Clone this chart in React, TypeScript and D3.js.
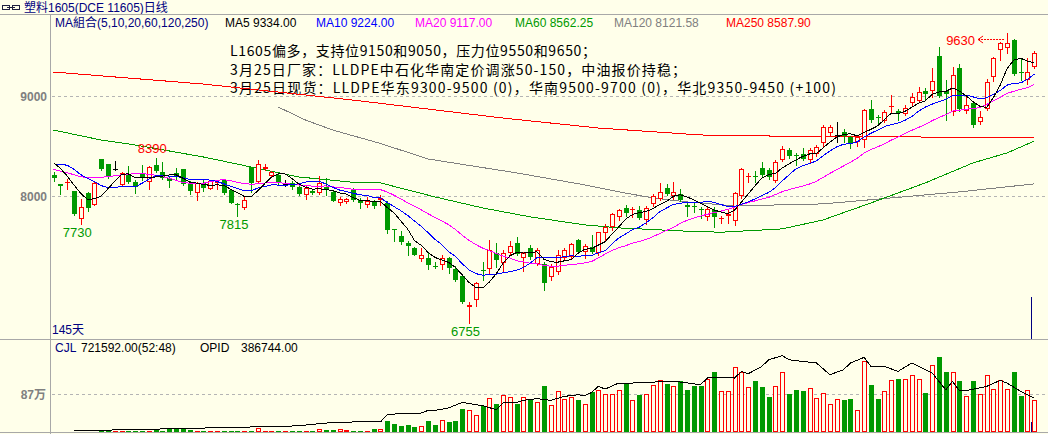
import React from 'react';
import * as d3 from 'd3';

// ---------------- data ----------------
const titleText = '塑料1605(DCE 11605)日线';
const legendLabels = ['MA組合(5,10,20,60,120,250)', 'MA5 9334.00', 'MA10 9224.00', 'MA20 9117.00', 'MA60 8562.25', 'MA120 8121.58', 'MA250 8587.90'];
const notes = [
  'L1605偏多，支持位9150和9050，压力位9550和9650；',
  '3月25日厂家：LLDPE中石化华南定价调涨50-150，中油报价持稳；',
  '3月25日现货：LLDPE华东9300-9500 (0)，华南9500-9700 (0)，华北9350-9450 (+100)',
];
const daysLabel = '145天';
const volInfo = ['CJL', '721592.00(52:48)', 'OPID', '386744.00'];
const priceTicks = [9000, 8000];
const volTicks = [870000];
const volTickLabels = ['87万'];

const opens = [
  8218, 8129, 8134, 8060, 7782, 8040, 7921, 8376, 8327, 8277,
  8119, 8228, 8149, 8228, 8149, 8317, 8248, 8188, 8238, 8277,
  8139, 8040, 8139, 8079, 8140, 8168, 8069, 7930, 7891, 8297,
  8149, 8277, 8208, 8218, 8130, 8139, 8099, 8020, 8060, 8040,
  8099, 8050, 7941, 7950, 8079, 7970, 7921, 7960, 7970, 7941,
  7683, 7614, 7545, 7495, 7386, 7396, 7317, 7327, 7396, 7287,
  7218, 6911, 6980, 7277, 7287, 7446, 7347, 7446, 7545, 7396,
  7495, 7337, 7337, 7208, 7258, 7396, 7406, 7574, 7456, 7505,
  7446, 7644, 7703, 7802, 7891, 7871, 7871, 7772, 7931, 7980,
  8089, 8010, 8030, 7921, 7910, 7880, 7802, 7871, 7782, 7812,
  7763, 8010, 8198, 8208, 8287, 8267, 8158, 8366, 8465, 8415,
  8425, 8366, 8425, 8535, 8634, 8614, 8644, 8594, 8545, 8564,
  8871, 8792, 8753, 8891, 8851, 8822, 8931, 8950, 9050, 9050,
  9396, 9050, 8842, 9277, 8851, 8931, 8743, 8871, 9188, 9455,
  9475, 9555, 9238, 9158, 9287,
];
const highs = [
  8248, 8129, 8178, 8060, 7980, 8045, 8149, 8380, 8330, 8356,
  8248, 8307, 8168, 8317, 8307, 8390, 8347, 8208, 8287, 8280,
  8158, 8149, 8168, 8168, 8158, 8178, 8079, 7940, 8000, 8300,
  8366, 8327, 8258, 8238, 8168, 8158, 8109, 8109, 8070, 8208,
  8188, 8060, 8000, 7990, 8089, 7990, 8000, 7970, 8020, 7960,
  7683, 7663, 7564, 7500, 7495, 7446, 7357, 7426, 7406, 7317,
  7220, 6960, 7158, 7357, 7574, 7545, 7475, 7564, 7604, 7456,
  7525, 7495, 7357, 7337, 7475, 7495, 7545, 7584, 7535, 7624,
  7654, 7733, 7842, 7881, 7921, 7900, 7911, 7911, 8030, 8139,
  8129, 8149, 8079, 7950, 7941, 7901, 7901, 7901, 7812, 7881,
  8050, 8287, 8237, 8258, 8347, 8287, 8366, 8505, 8485, 8435,
  8485, 8485, 8515, 8713, 8713, 8743, 8673, 8604, 8614, 8871,
  8960, 8812, 8861, 9010, 8871, 8910, 9030, 9089, 9079, 9277,
  9485, 9158, 9287, 9317, 9010, 8941, 8851, 9168, 9386, 9535,
  9630, 9564, 9376, 9376, 9445,
];
const lows = [
  8158, 8030, 8079, 7822, 7730, 7862, 7921, 8270, 8190, 8267,
  8119, 8139, 8040, 8168, 8079, 8248, 8178, 8102, 8178, 8120,
  8030, 7970, 8060, 8079, 8080, 8030, 7941, 7815, 7880, 8050,
  8139, 8270, 8198, 8119, 8109, 8079, 8020, 7980, 8030, 8030,
  8020, 7960, 7921, 7940, 7960, 7891, 7901, 7891, 7921, 7643,
  7564, 7534, 7426, 7420, 7366, 7287, 7297, 7287, 7248, 7168,
  6950, 6755, 6921, 7178, 7248, 7307, 7258, 7426, 7426, 7267,
  7386, 7327, 7079, 7178, 7238, 7376, 7386, 7446, 7396, 7446,
  7426, 7574, 7673, 7772, 7812, 7802, 7782, 7733, 7911, 7970,
  8020, 7980, 7960, 7812, 7852, 7792, 7772, 7703, 7743, 7743,
  7723, 7990, 8149, 8149, 8198, 8178, 8149, 8356, 8386, 8317,
  8366, 8337, 8406, 8505, 8604, 8545, 8545, 8485, 8505, 8495,
  8743, 8733, 8743, 8832, 8762, 8812, 8901, 8940, 8960, 8990,
  8990, 8762, 8812, 8851, 8832, 8693, 8723, 8861, 9149, 9356,
  9425, 9208, 9158, 9119, 9277,
];
const closes = [
  8188, 8109, 8144, 7832, 7901, 7891, 8139, 8277, 8198, 8277,
  8238, 8149, 8099, 8188, 8297, 8257, 8188, 8158, 8198, 8129,
  8060, 8139, 8089, 8158, 8150, 8040, 7941, 7925, 7970, 8139,
  8327, 8297, 8248, 8139, 8130, 8099, 8030, 8089, 8040, 8139,
  8079, 7960, 7980, 7980, 7970, 7941, 7960, 7911, 7990, 7673,
  7673, 7554, 7515, 7426, 7426, 7327, 7307, 7396, 7297, 7178,
  6960, 6931, 7149, 7267, 7475, 7376, 7446, 7515, 7436, 7446,
  7406, 7475, 7149, 7307, 7426, 7475, 7535, 7456, 7515, 7456,
  7654, 7703, 7832, 7871, 7842, 7881, 7792, 7891, 8010, 8050,
  8030, 8050, 7970, 7901, 7900, 7871, 7881, 7802, 7792, 7832,
  8040, 8277, 8208, 8198, 8218, 8198, 8347, 8475, 8406, 8406,
  8376, 8465, 8495, 8693, 8693, 8614, 8604, 8525, 8594, 8861,
  8762, 8782, 8842, 8901, 8832, 8881, 8990, 9040, 9020, 9149,
  9000, 9020, 9208, 8871, 8911, 8713, 8792, 9139, 9376, 9525,
  9525, 9218, 9228, 9238, 9426,
];
const volumes = [
  10000, 10000, 10000, 10000, 10000, 10000, 10000, 46000, 25000, 30000,
  25000, 25000, 30000, 30000, 25000, 53000, 30000, 69000, 69000, 69000,
  53000, 25000, 25000, 25000, 25000, 25000, 25000, 25000, 25000, 30000,
  82000, 25000, 25000, 25000, 25000, 25000, 25000, 25000, 25000, 76000,
  53000, 53000, 69000, 40000, 30000, 30000, 30000, 60000, 60000, 243000,
  190000, 130000, 167000, 105000, 144000, 243000, 151000, 266000, 220000, 243000,
  527000, 495000, 396000, 586000, 785000, 648000, 854000, 792000, 648000, 802000,
  740000, 678000, 1060000, 625000, 946000, 763000, 808000, 740000, 648000, 907000,
  969000, 877000, 877000, 969000, 1106000, 740000, 854000, 877000, 1083000, 1198000,
  1106000, 1044000, 1159000, 969000, 1044000, 1044000, 1221000, 1365000, 946000, 946000,
  1488000, 1365000, 1030000, 1159000, 1021000, 792000, 1060000, 1365000, 877000, 969000,
  930000, 1014000, 785000, 900000, 648000, 763000, 740000, 763000, 511000, 1617000,
  1083000, 763000, 930000, 1198000, 1221000, 1221000, 1312000, 1221000, 900000, 1541000,
  1708000, 1365000, 1381000, 1175000, 831000, 1159000, 877000, 1312000, 992000, 1198000,
  992000, 1365000, 831000, 969000, 721592,
];
// open interest (OPID) read at day indices
const opidDays = [3, 11, 22, 29, 32, 36, 41, 44, 48, 49, 52, 54, 55, 56, 58, 60, 62, 63, 65, 66, 68, 69, 71, 73, 75, 77, 78, 79, 80, 81, 83, 85, 88, 89, 91, 92, 95, 96, 98, 100, 101, 102, 104, 105, 107, 108, 110, 112, 114, 116, 117, 119, 120, 122, 124, 126, 129, 131, 132, 133, 134, 137, 139, 140, 142, 144];
const opidValues = [15000, 26000, 45000, 57000, 57000, 72000, 109000, 114000, 114000, 197000, 216000, 216000, 246000, 246000, 273000, 337000, 311000, 299000, 254000, 333000, 337000, 360000, 379000, 360000, 405000, 424000, 413000, 450000, 519000, 489000, 557000, 557000, 564000, 580000, 575000, 569000, 538000, 614000, 621000, 614000, 689000, 663000, 746000, 822000, 868000, 822000, 803000, 785000, 652000, 709000, 785000, 849000, 746000, 746000, 689000, 785000, 671000, 481000, 576000, 470000, 470000, 519000, 587000, 557000, 462000, 386744];

// early MA values (window reaches before the first shown day)
const ma5Head = [8340, 8284, 8208, 8119];
const ma10Head = [8327, 8324, 8314, 8274, 8221, 8185, 8152, 8112, 8092];
const ma20Head = [8274, 8257, 8240, 8220, 8200, 8190, 8190, 8195, 8200, 8210, 8220, 8225, 8230, 8230, 8225, 8215, 8200, 8185, 8165];
// long MAs read at day indices
const ma60Days = [0, 7, 12, 22, 29, 36, 44, 48, 56, 63, 70, 78, 83, 92, 98, 107, 113, 120, 128, 135, 140, 144];
const ma60Values = [8663, 8564, 8515, 8396, 8297, 8198, 8145, 8139, 8000, 7891, 7802, 7723, 7693, 7663, 7650, 7683, 7772, 7940, 8139, 8337, 8436, 8554];
const ma120Days = [33, 37, 41, 48, 55, 68, 78, 83, 88, 93, 100, 113, 123, 133, 144];
const ma120Values = [8891, 8762, 8663, 8530, 8376, 8238, 8119, 8050, 7990, 7950, 7911, 7931, 7990, 8050, 8129];
const ma250Days = [0, 22, 44, 66, 80, 95, 110, 144];
const ma250Values = [9238, 9119, 8960, 8782, 8683, 8614, 8599, 8589];

// extreme-price labels
const markDays = [15, 4, 27, 61, 140];
const markKinds = ['high', 'low', 'low', 'low', 'highArrow'];

// ---------------- styles / layout ----------------
const W = 1048;
const H = 434;
const BG = '#FFFFEA';
const UP = '#FF0000';
const DOWN = '#009900';
const NAVY = '#000080';
const AXIS = '#A8A8A8';
const GRID = '#B4B4B4';
const legendColors = [NAVY, '#000000', '#0000FF', '#FF00FF', '#009900', '#808080', '#FF0000'];
const legendX = [55, 225, 316, 415, 515, 614, 726];
const noteLengths = [366, 456, 606];
const SANS = '"Liberation Sans", "Noto Sans CJK SC", sans-serif';
const CJK = '"Noto Sans CJK SC", sans-serif';

export default function App() {
  const n = closes.length;
  const x = d3.scaleLinear().domain([0, n - 1]).range([53.5, 1034.3]);
  const y = d3.scaleLinear().domain([6755, 9630]).range([322.5, 32.5]);
  const vy = d3.scaleLinear().domain([0, 870000]).range([432, 394]);
  const oy = d3.scaleLinear().domain([0, 386744]).range([432, 398]);

  const movingAverage = (len: number, head: number[]) =>
    closes.map((_, i) => (i < len - 1 ? head[i] : (d3.mean(closes.slice(i - len + 1, i + 1)) as number)));

  const lineGen = d3
    .line<[number, number]>()
    .x((d) => x(d[0]))
    .y((d) => y(d[1]));
  const seriesPath = (vals: number[]) => lineGen(vals.map((v, i) => [i, v] as [number, number])) || '';
  const sparsePath = (days: number[], vals: number[]) => lineGen(days.map((d, k) => [d, vals[k]] as [number, number])) || '';
  const opidPath =
    d3
      .line<[number, number]>()
      .x((d) => x(d[0]))
      .y((d) => oy(d[1]))(opidDays.map((d, k) => [d, opidValues[k]] as [number, number])) || '';

  const ma5 = movingAverage(5, ma5Head);
  const ma10 = movingAverage(10, ma10Head);
  const ma20 = movingAverage(20, ma20Head);

  const candles = closes.map((c, i) => {
    const o = opens[i];
    const cx = Math.round(x(i));
    const top = Math.round(y(Math.max(o, c)));
    const bot = Math.round(y(Math.min(o, c)));
    const hi = Math.round(y(highs[i]));
    const lo = Math.round(y(lows[i]));
    const color = c > o ? UP : c < o ? DOWN : '#000000';
    const wx = cx + 0.5;
    if (bot - top < 2) {
      return (
        <g key={i}>
          <line x1={wx} x2={wx} y1={hi} y2={lo + 1} stroke={color} />
          <line x1={cx - 2} x2={cx + 3} y1={top + 0.5} y2={top + 0.5} stroke={color} />
        </g>
      );
    }
    if (c > o) {
      return (
        <g key={i}>
          <line x1={wx} x2={wx} y1={hi} y2={top} stroke={color} />
          <line x1={wx} x2={wx} y1={bot} y2={lo + 1} stroke={color} />
          <rect x={cx - 1.5} y={top + 0.5} width={4} height={bot - top - 1} fill={BG} stroke={color} />
        </g>
      );
    }
    return (
      <g key={i}>
        <line x1={wx} x2={wx} y1={hi} y2={lo + 1} stroke={color} />
        <rect x={cx - 2} y={top} width={5} height={bot - top} fill={color} />
      </g>
    );
  });

  const volBars = volumes.map((v, i) => {
    const cx = Math.round(x(i));
    const top = Math.round(vy(v));
    const h = 432 - top;
    if (h < 1) return null;
    const up = closes[i] >= opens[i];
    if (up && h >= 3) {
      return <rect key={i} x={cx - 1.5} y={top + 0.5} width={4} height={h - 1} fill={BG} stroke={UP} />;
    }
    return <rect key={i} x={cx - 2} y={top} width={5} height={h} fill={up ? UP : DOWN} />;
  });

  const marks = markDays.map((d, k) => {
    const kind = markKinds[k];
    const cx = x(d);
    if (kind === 'low') {
      return (
        <text key={k} x={cx - 3.5} y={y(lows[d]) + 13} textAnchor="middle" fill={DOWN} fontSize={13} fontFamily={SANS}>
          {lows[d]}
        </text>
      );
    }
    if (kind === 'high') {
      return (
        <text key={k} x={cx - 3.5} y={y(highs[d]) - 4.5} textAnchor="middle" fill={UP} fontSize={13} fontFamily={SANS}>
          {highs[d]}
        </text>
      );
    }
    const ay = Math.round(y(highs[d])) + 6.5;
    return (
      <g key={k}>
        <text x={cx - 32} y={ay + 5.5} textAnchor="end" fill={UP} fontSize={13} fontFamily={SANS}>
          {highs[d]}
        </text>
        <polyline points={`${cx - 24},${ay - 3.5} ${cx - 29},${ay} ${cx - 24},${ay + 3.5}`} fill="none" stroke={UP} />
        <line x1={cx - 29} x2={cx - 2} y1={ay} y2={ay} stroke={UP} strokeDasharray="2,1" />
      </g>
    );
  });

  return (
    <svg
      width={W}
      height={H}
      style={{ position: 'absolute', left: 0, top: 0, background: BG, display: 'block' }}
      fontFamily={SANS}
    >
      <rect x={0} y={0} width={W} height={H} fill={BG} />

      {/* title bar */}
      <g shapeRendering="crispEdges" stroke="#202040" fill="none">
        <rect x={2.5} y={5.5} width={7} height={4} />
        <rect x={12.5} y={5.5} width={7} height={4} />
        <line x1={7} x2={15} y1={7.5} y2={7.5} />
      </g>
      <text x={24} y={12} fill={NAVY} fontSize={12}>
        {titleText}
      </text>

      {/* frame */}
      <g shapeRendering="crispEdges" stroke={AXIS}>
        <line x1={0} x2={W} y1={14.5} y2={14.5} />
        <line x1={0} x2={W} y1={339.5} y2={339.5} />
        <line x1={0} x2={W} y1={432.5} y2={432.5} />
        <line x1={50.5} x2={50.5} y1={14} y2={H} />
      </g>

      {/* grid */}
      <g shapeRendering="crispEdges" stroke={GRID} strokeDasharray="3,3">
        {priceTicks.map((t) => (
          <line key={t} x1={52} x2={W} y1={Math.floor(y(t)) + 0.5} y2={Math.floor(y(t)) + 0.5} />
        ))}
        {volTicks.map((t) => (
          <line key={t} x1={52} x2={W} y1={Math.floor(vy(t)) + 0.5} y2={Math.floor(vy(t)) + 0.5} />
        ))}
      </g>
      {priceTicks.map((t) => (
        <text key={t} x={47} y={Math.floor(y(t)) + 5} textAnchor="end" fill="#808080" fontSize={12} fontWeight="bold">
          {t}
        </text>
      ))}
      {volTicks.map((t, k) => (
        <text key={t} x={46} y={Math.floor(vy(t)) + 5} textAnchor="end" fill="#808080" fontSize={12} fontWeight="bold">
          {volTickLabels[k]}
        </text>
      ))}

      {/* legend */}
      {legendLabels.map((l, k) => (
        <text key={l} x={legendX[k]} y={27} fill={legendColors[k]} fontSize={12}>
          {l}
        </text>
      ))}

      {/* notes */}
      {notes.map((t, k) => (
        <text
          key={k}
          x={230}
          y={56 + k * 18.5}
          fill="#000000"
          fontSize={14}
          fontFamily={CJK}
          textLength={noteLengths[k]}
          lengthAdjust="spacing"
        >
          {t}
        </text>
      ))}

      {/* long MAs */}
      <g fill="none" shapeRendering="crispEdges">
        <path d={sparsePath(ma250Days, ma250Values)} stroke="#FF0000" />
        <path d={sparsePath(ma120Days, ma120Values)} stroke="#808080" />
        <path d={sparsePath(ma60Days, ma60Values)} stroke="#009900" />
      </g>

      {/* candles */}
      <g shapeRendering="crispEdges">{candles}</g>

      {/* short MAs */}
      <g fill="none" shapeRendering="crispEdges">
        <path d={seriesPath(ma20)} stroke="#FF00FF" />
        <path d={seriesPath(ma10)} stroke="#0000FF" />
        <path d={seriesPath(ma5)} stroke="#000000" />
      </g>

      {marks}

      <text x={52} y={334} fill={NAVY} fontSize={12}>
        {daysLabel}
      </text>

      {/* volume panel */}
      <text y={352} fontSize={12}>
        <tspan x={55} fill={NAVY}>{volInfo[0]}</tspan>
        <tspan x={81} fill="#000000">{volInfo[1]}</tspan>
        <tspan x={200} fill="#000000">{volInfo[2]}</tspan>
        <tspan x={241} fill="#000000">{volInfo[3]}</tspan>
      </text>
      <g shapeRendering="crispEdges">{volBars}</g>
      <path d={opidPath} fill="none" stroke="#000000" shapeRendering="crispEdges" />

      {/* cursor marker */}
      <g stroke={NAVY} shapeRendering="crispEdges">
        <line x1={1031.5} x2={1031.5} y1={297} y2={339} />
        <line x1={1031.5} x2={1031.5} y1={422} y2={432} />
      </g>
    </svg>
  );
}
